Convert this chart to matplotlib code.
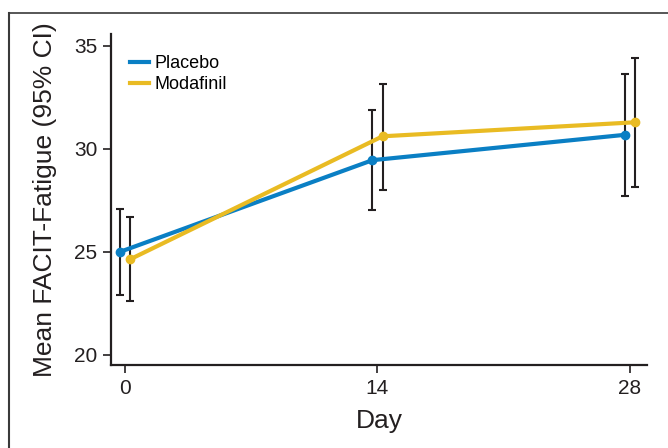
import matplotlib
matplotlib.use('Agg')
import matplotlib.pyplot as plt
from matplotlib.lines import Line2D

# ---- data ----
days = [0, 14, 28]
placebo_mean = [25.0, 29.45, 30.68]
placebo_lo = [22.88, 27.02, 27.70]
placebo_hi = [27.10, 31.87, 33.62]
modaf_mean = [24.64, 30.61, 31.29]
modaf_lo = [22.60, 28.01, 28.16]
modaf_hi = [26.71, 33.16, 34.42]

BLUE = '#0a7fc4'
GOLD = '#e9bb23'
DODGE = 0.28

plt.rcParams['font.family'] = ['Liberation Sans Narrow', 'Liberation Sans', 'DejaVu Sans']

fig = plt.figure(figsize=(6.68, 4.48), dpi=100)
ax = fig.add_axes([0.1662, 0.186, 0.8024, 0.738])

def draw(mean, lo, hi, shift, color, label):
    x = [d + shift for d in days]
    yerr = [[m - l for m, l in zip(mean, lo)], [h - m for m, h in zip(mean, hi)]]
    ax.errorbar(x, mean, yerr=yerr, fmt='none', ecolor='#231f20', elinewidth=1.5,
                capsize=3, capthick=1.5, zorder=2)
    ax.plot(x, mean, '-o', color=color, lw=3, ms=6, label=label, zorder=3)

draw(placebo_mean, placebo_lo, placebo_hi, -DODGE, BLUE, 'Placebo')
draw(modaf_mean, modaf_lo, modaf_hi, DODGE, GOLD, 'Modafinil')

ax.set_xlim(-0.8, 28.97)
ax.set_ylim(19.51, 35.58)
ax.set_xticks(days)
ax.set_yticks([20, 25, 30, 35])
for s in ['top', 'right']:
    ax.spines[s].set_visible(False)
for s in ['left', 'bottom']:
    ax.spines[s].set_linewidth(1.6)
    ax.spines[s].set_color('#231f20')
ax.tick_params(axis='both', direction='out', length=6, width=1.2, color='#231f20',
               labelsize=15, labelcolor='#231f20', pad=4)
ax.set_xlabel('Day', fontsize=19, color='#231f20', labelpad=8)
ax.set_ylabel('Mean FACIT-Fatigue (95% CI)', fontsize=19, color='#231f20', labelpad=12)

handles = [Line2D([], [], color=BLUE, lw=3), Line2D([], [], color=GOLD, lw=3)]
ax.legend(handles, ['Placebo', 'Modafinil'], loc='upper left', bbox_to_anchor=(0.011, 0.975),
          frameon=False, fontsize=13, handlelength=1.1, handletextpad=0.3,
          labelspacing=0.25, borderaxespad=0.3)

# outer frame (top and left edges only)
fig.add_artist(Line2D([9 / 668, 1], [1 - 13 / 448, 1 - 13 / 448], color='#3a3a3a', lw=1.2,
                      transform=fig.transFigure))
fig.add_artist(Line2D([9 / 668, 9 / 668], [0, 1 - 13 / 448], color='#3a3a3a', lw=1.5,
                      transform=fig.transFigure))

fig.savefig('out.png', dpi=100)
